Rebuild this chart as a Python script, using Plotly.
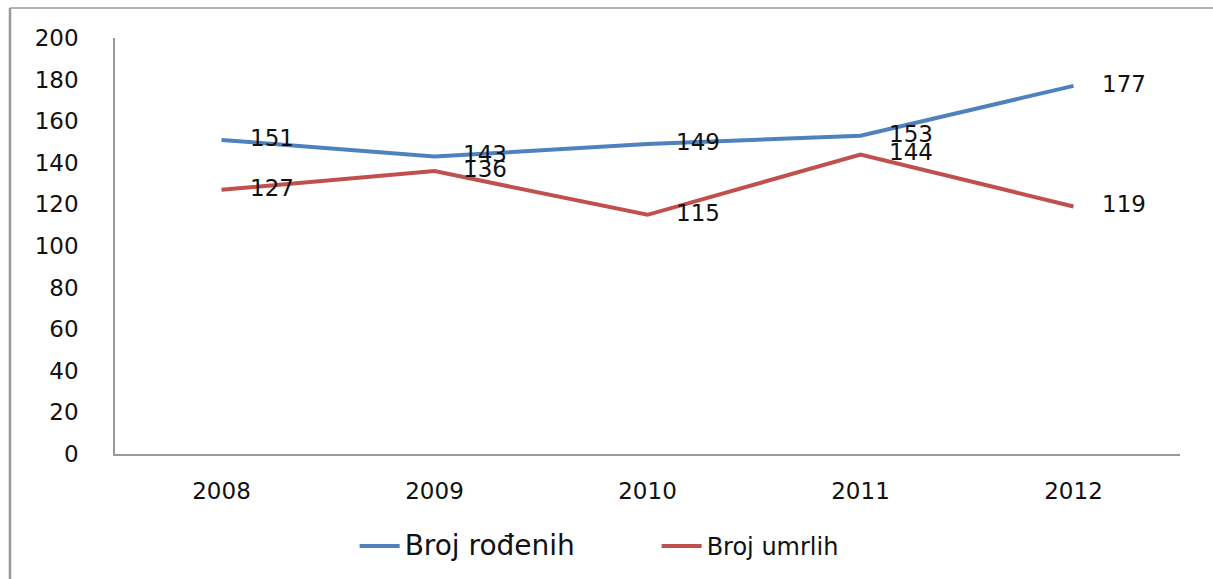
import plotly.graph_objects as go

years = ["2008", "2009", "2010", "2011", "2012"]
rodjeni = [151, 143, 149, 153, 177]
umrli = [127, 136, 115, 144, 119]
y_ticks = [0, 20, 40, 60, 80, 100, 120, 140, 160, 180, 200]

blue = "#4F81BD"
red = "#C0504D"
font = "DejaVu Sans"

fig = go.Figure()
fig.add_trace(go.Scatter(
    x=years, y=rodjeni, mode="lines+markers+text",
    name='<span style="font-size:28px">Broj rođenih</span>',
    line=dict(color=blue, width=4),
    marker=dict(size=44, color="rgba(0,0,0,0)"),
    text=[str(v) for v in rodjeni], textposition="middle right",
    textfont=dict(family=font, size=23, color="#111111"),
))
fig.add_trace(go.Scatter(
    x=years, y=umrli, mode="lines+markers+text",
    name='<span style="font-size:24px">Broj umrlih</span>',
    line=dict(color=red, width=4),
    marker=dict(size=44, color="rgba(0,0,0,0)"),
    text=[str(v) for v in umrli], textposition="middle right",
    textfont=dict(family=font, size=23, color="#111111"),
))

fig.update_layout(
    width=1213, height=579,
    margin=dict(l=115, r=33, t=38, b=125),
    paper_bgcolor="white", plot_bgcolor="white",
    font=dict(family=font, size=23, color="#111111"),
    showlegend=True,
    legend=dict(orientation="h", x=0.225, xanchor="left", y=-0.221, yanchor="middle",
                font=dict(family=font, size=23, color="#111111"), itemwidth=40,
                entrywidth=295, entrywidthmode="pixels", tracegroupgap=0),
    xaxis=dict(type="category", range=[-0.5, 4.5], showline=True, linecolor="#999999",
               linewidth=1.5, showgrid=False, ticks="", ticklabelstandoff=16,
               tickfont=dict(family=font, size=23, color="#111111"), zeroline=False),
    yaxis=dict(range=[0, 200], tickvals=y_ticks, showline=True, linecolor="#999999",
               linewidth=1.5, showgrid=False, ticks="", ticklabelstandoff=30,
               tickfont=dict(family=font, size=23, color="#111111"), zeroline=False),
    shapes=[
        dict(type="line", xref="paper", yref="paper", x0=-0.0986, x1=-0.0986, y0=1.0721, y1=-0.31,
             line=dict(color="#999999", width=2.5)),
        dict(type="line", xref="paper", yref="paper", x0=-0.0986, x1=1.04, y0=1.0721, y1=1.0721,
             line=dict(color="#999999", width=1.5)),
    ],
)
fig.update_layout(legend_entrywidth=247)

fig.write_html("out.html", config={"displayModeBar": False},
               post_script="document.body.style.margin='0';document.body.style.overflow='hidden';")
